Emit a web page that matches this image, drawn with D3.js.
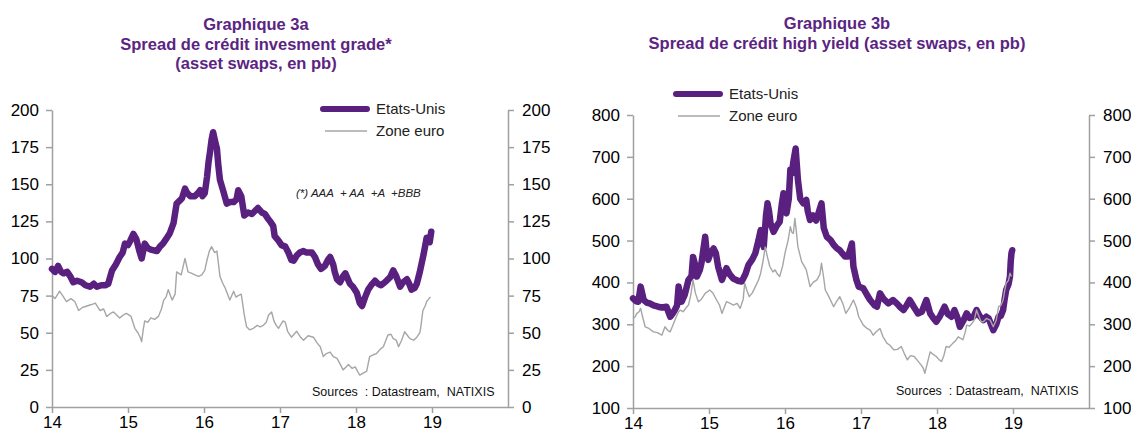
<!DOCTYPE html>
<html>
<head>
<meta charset="utf-8">
<script src="https://cdn.jsdelivr.net/npm/d3@7"></script>
<style>
  body { margin: 0; background: #fff; }
  svg { display: block; font-family: "Liberation Sans", Arial, sans-serif; }
  .title { font-weight: bold; fill: #5b2482; font-size: 16.5px; text-anchor: middle; }
  .tick text { font-size: 17px; fill: #000; font-family: "Liberation Sans", Arial, sans-serif; }
  .axis path, .axis line { stroke: #a0a0a0; stroke-width: 1.5; }
  .legend { font-size: 15px; fill: #222; }
</style>
</head>
<body>
<div id="chart"></div>
<script>
const width = 1131;
const height = 434;

const purple = "#59207f";
const grey = "#a6a6a6";

const yearTicks = [14, 15, 16, 17, 18, 19];
const igTicks = [0, 25, 50, 75, 100, 125, 150, 175, 200];
const hyTicks = [100, 200, 300, 400, 500, 600, 700, 800];

// Graphique 3a - investment grade, Etats-Unis
const igUsDates = [14.00, 14.04, 14.08, 14.12, 14.15, 14.20, 14.24, 14.28, 14.33, 14.39, 14.44, 14.50, 14.55, 14.59, 14.65, 14.70, 14.74, 14.79, 14.84, 14.89, 14.93, 14.96, 15.00, 15.03, 15.07, 15.11, 15.15, 15.18, 15.22, 15.26, 15.30, 15.38, 15.42, 15.46, 15.50, 15.55, 15.60, 15.64, 15.68, 15.71, 15.75, 15.78, 15.82, 15.88, 15.92, 15.95, 15.98, 16.01, 16.04, 16.06, 16.08, 16.10, 16.12, 16.15, 16.17, 16.19, 16.21, 16.25, 16.30, 16.34, 16.39, 16.43, 16.45, 16.49, 16.53, 16.58, 16.63, 16.67, 16.71, 16.76, 16.80, 16.84, 16.87, 16.91, 16.93, 16.98, 17.02, 17.07, 17.11, 17.15, 17.18, 17.22, 17.26, 17.31, 17.35, 17.42, 17.46, 17.50, 17.54, 17.59, 17.63, 17.66, 17.70, 17.72, 17.75, 17.79, 17.83, 17.86, 17.92, 17.96, 18.01, 18.05, 18.08, 18.12, 18.16, 18.20, 18.25, 18.29, 18.33, 18.38, 18.45, 18.49, 18.53, 18.58, 18.62, 18.67, 18.70, 18.73, 18.77, 18.80, 18.84, 18.89, 18.93, 18.95, 18.97, 18.99];
const igUsValues = [93, 91, 95, 91, 90, 91, 88, 84, 85, 84, 82, 81, 83, 81, 82, 82, 83, 92, 96, 101, 104, 110, 109, 112, 116.5, 113, 105, 100, 110, 107, 106, 105, 108, 110, 113, 117, 124, 137, 139, 140.5, 147, 144, 142, 142, 144, 146, 142, 144, 155, 165, 172, 180, 185, 178, 174, 162, 153, 146, 137, 138, 138, 140, 146, 142, 129, 131, 130, 132, 134, 131, 130, 127, 125, 122, 115, 112, 109, 108, 104, 99, 98.5, 102, 104, 105, 104, 104, 101, 96, 93, 95, 99, 101, 96, 91, 86, 84, 88, 90, 83, 81, 77, 70, 68, 74, 79, 82, 85, 83, 82, 84, 87.5, 92, 88, 81, 84, 86, 83, 79, 80, 83, 91, 103, 114, 112, 111, 118];

// Graphique 3a - investment grade, Zone euro
const igEuDates = [14.00, 14.04, 14.10, 14.14, 14.19, 14.25, 14.30, 14.35, 14.40, 14.46, 14.52, 14.57, 14.63, 14.68, 14.72, 14.77, 14.81, 14.85, 14.89, 14.94, 14.98, 15.04, 15.09, 15.13, 15.16, 15.18, 15.20, 15.22, 15.26, 15.30, 15.35, 15.40, 15.44, 15.47, 15.50, 15.53, 15.58, 15.62, 15.64, 15.70, 15.75, 15.79, 15.84, 15.88, 15.93, 15.97, 16.01, 16.04, 16.07, 16.10, 16.14, 16.17, 16.21, 16.24, 16.28, 16.31, 16.34, 16.39, 16.42, 16.45, 16.49, 16.53, 16.56, 16.60, 16.65, 16.70, 16.74, 16.78, 16.82, 16.85, 16.89, 16.92, 16.95, 16.98, 17.04, 17.07, 17.10, 17.15, 17.22, 17.27, 17.31, 17.37, 17.44, 17.49, 17.53, 17.57, 17.61, 17.66, 17.70, 17.75, 17.79, 17.83, 17.87, 17.90, 17.95, 17.99, 18.02, 18.05, 18.10, 18.14, 18.18, 18.22, 18.27, 18.32, 18.36, 18.42, 18.46, 18.49, 18.53, 18.56, 18.60, 18.64, 18.68, 18.71, 18.76, 18.80, 18.84, 18.85, 18.88, 18.91, 18.93, 18.96, 18.98];
const igEuValues = [75, 73, 78, 75, 71, 73, 71, 65, 67, 68, 69, 70, 65, 66, 61, 63, 64, 62, 60, 62, 63, 61, 53, 50, 47, 44, 52, 58, 57, 60, 59, 61, 66, 72, 74, 79, 72, 76, 91, 89, 100, 91, 90, 89, 88, 89, 92, 99, 105, 108, 104, 105, 88, 84, 80, 76, 72, 78, 74, 75, 76, 62, 54, 52, 53, 55, 54, 55, 57, 62, 64, 58, 55, 53, 58, 57, 51, 47, 51, 47, 45, 48, 47, 43, 40.6, 34, 36, 37, 34, 32.7, 29, 25, 27, 28.6, 26, 27, 24, 21.5, 23, 24, 34, 35, 36, 39, 40.6, 48.5, 49, 46, 45, 40.6, 45, 50.7, 48, 46, 45, 47, 50, 53, 65, 68, 71, 73, 74];

// Graphique 3b - high yield, Etats-Unis
const hyUsDates = [14.00, 14.04, 14.07, 14.10, 14.12, 14.14, 14.18, 14.22, 14.27, 14.33, 14.38, 14.44, 14.49, 14.52, 14.55, 14.58, 14.60, 14.62, 14.64, 14.68, 14.73, 14.77, 14.79, 14.82, 14.84, 14.88, 14.90, 14.95, 14.97, 14.99, 15.02, 15.06, 15.09, 15.12, 15.17, 15.20, 15.23, 15.27, 15.32, 15.38, 15.43, 15.48, 15.52, 15.57, 15.61, 15.65, 15.68, 15.72, 15.75, 15.77, 15.79, 15.81, 15.85, 15.89, 15.93, 15.96, 15.98, 16.02, 16.05, 16.07, 16.09, 16.11, 16.14, 16.17, 16.20, 16.24, 16.28, 16.30, 16.33, 16.37, 16.41, 16.44, 16.48, 16.51, 16.55, 16.60, 16.64, 16.68, 16.72, 16.75, 16.79, 16.83, 16.86, 16.88, 16.90, 16.94, 16.97, 17.03, 17.08, 17.12, 17.18, 17.21, 17.25, 17.30, 17.36, 17.42, 17.47, 17.52, 17.56, 17.60, 17.64, 17.70, 17.75, 17.80, 17.86, 17.91, 17.95, 17.99, 18.04, 18.10, 18.14, 18.19, 18.23, 18.27, 18.30, 18.35, 18.39, 18.43, 18.48, 18.52, 18.56, 18.61, 18.65, 18.68, 18.71, 18.74, 18.78, 18.81, 18.84, 18.87, 18.89, 18.91, 18.94, 18.96, 18.97, 18.98, 18.99];
const hyUsValues = [362, 355, 354, 390, 375, 358, 352, 350, 345, 342, 340, 342, 318, 325, 334, 345, 390, 370, 354, 370, 406, 415, 461, 440, 414, 430, 446, 509, 470, 454, 470, 481, 470, 438, 406, 420, 434, 420, 409, 404, 402, 420, 442, 455, 470, 500, 525, 485, 560, 589, 570, 541, 521, 535, 545, 590, 613, 565, 600, 669, 660, 688, 720, 645, 600, 589, 597, 570, 549, 560, 548, 565, 589, 530, 509, 501, 490, 482, 477, 470, 462, 462, 480, 493, 438, 406, 390, 386, 370, 358, 345, 342, 374, 360, 350, 358, 350, 340, 334, 345, 358, 340, 326, 330, 358, 326, 315, 306, 320, 342, 325, 318, 334, 315, 294, 310, 326, 315, 318, 334, 320, 310, 318, 314, 300, 286, 300, 318, 320, 334, 360, 382, 395, 414, 450, 470, 477];

// Graphique 3b - high yield, Zone euro
const hyEuDates = [14.00, 14.03, 14.05, 14.08, 14.10, 14.13, 14.16, 14.21, 14.27, 14.32, 14.38, 14.42, 14.46, 14.49, 14.53, 14.57, 14.60, 14.62, 14.66, 14.70, 14.73, 14.76, 14.79, 14.82, 14.86, 14.90, 14.95, 15.01, 15.05, 15.10, 15.14, 15.17, 15.20, 15.23, 15.28, 15.32, 15.37, 15.41, 15.45, 15.47, 15.50, 15.53, 15.57, 15.61, 15.65, 15.68, 15.71, 15.74, 15.77, 15.80, 15.84, 15.87, 15.90, 15.93, 15.97, 16.00, 16.04, 16.07, 16.09, 16.11, 16.13, 16.15, 16.17, 16.22, 16.25, 16.28, 16.33, 16.37, 16.42, 16.46, 16.48, 16.51, 16.53, 16.58, 16.64, 16.68, 16.72, 16.76, 16.80, 16.85, 16.90, 16.94, 16.97, 17.03, 17.08, 17.12, 17.16, 17.20, 17.25, 17.29, 17.34, 17.38, 17.43, 17.48, 17.53, 17.57, 17.61, 17.65, 17.70, 17.75, 17.79, 17.82, 17.84, 17.87, 17.91, 17.95, 17.99, 18.03, 18.06, 18.09, 18.12, 18.16, 18.21, 18.25, 18.28, 18.34, 18.37, 18.39, 18.43, 18.46, 18.49, 18.52, 18.55, 18.58, 18.61, 18.65, 18.70, 18.74, 18.78, 18.81, 18.84, 18.87, 18.89, 18.91, 18.94, 18.96, 18.98];
const hyEuValues = [314, 318, 326, 330, 338, 315, 294, 290, 282, 280, 274, 294, 285, 282, 300, 318, 330, 334, 330, 340, 346, 370, 406, 375, 354, 360, 374, 382, 375, 358, 345, 326, 340, 354, 350, 346, 350, 338, 360, 398, 380, 366, 375, 390, 405, 422, 450, 485, 460, 438, 425, 430, 420, 414, 440, 470, 500, 533, 520, 517, 553, 520, 485, 449, 440, 430, 390, 400, 406, 420, 446, 410, 382, 365, 342, 355, 366, 350, 326, 340, 358, 340, 318, 298, 290, 286, 274, 282, 290, 270, 255, 250, 239, 240, 247, 230, 215, 225, 223, 212, 203, 195, 183, 205, 234, 228, 223, 215, 211, 225, 247, 245, 255, 262, 270, 263, 280, 298, 296, 302, 310, 334, 320, 306, 306, 314, 310, 294, 310, 342, 345, 358, 380, 398, 405, 422, 414];

const svg = d3.select("#chart")
    .append("svg")
        .attr("width", width)
        .attr("height", height);

function drawPanel(cfg) {
    const X_SCALE = d3.scaleLinear().domain([14, 20]).range([cfg.left, cfg.right]);
    const Y_SCALE = d3.scaleLinear().domain(cfg.yDomain).range([cfg.bottom, cfg.top]);

    // titles
    cfg.title.forEach((t, i) => {
        svg.append("text")
            .attr("class", "title")
            .attr("x", cfg.titleX)
            .attr("y", cfg.titleY + i * 19.5)
            .text(t);
    });

    // left axis
    svg.append("g")
        .attr("class", "axis")
        .attr("transform", "translate(" + cfg.left + ",0)")
        .call(d3.axisLeft(Y_SCALE).tickValues(cfg.yTicks).tickSizeInner(6).tickSizeOuter(0).tickPadding(7));

    // right axis
    svg.append("g")
        .attr("class", "axis")
        .attr("transform", "translate(" + cfg.right + ",0)")
        .call(d3.axisRight(Y_SCALE).tickValues(cfg.yTicks).tickSizeInner(6).tickSizeOuter(0).tickPadding(8));

    // bottom axis, years shown as two digits
    svg.append("g")
        .attr("class", "axis")
        .attr("transform", "translate(0," + cfg.bottom + ")")
        .call(d3.axisBottom(X_SCALE).tickValues(yearTicks).tickFormat(d3.format("d"))
            .tickSizeInner(6).tickSizeOuter(0).tickPadding(3));

    const line = d3.line()
        .x(d => X_SCALE(d[0]))
        .y(d => Y_SCALE(d[1]));

    svg.append("path")
        .datum(d3.zip(cfg.usDates, cfg.usValues))
        .attr("d", line)
        .attr("fill", "none")
        .attr("stroke", purple)
        .attr("stroke-width", 6.5)
        .attr("stroke-linejoin", "round")
        .attr("stroke-linecap", "round");

    svg.append("path")
        .datum(d3.zip(cfg.euDates, cfg.euValues))
        .attr("d", line)
        .attr("fill", "none")
        .attr("stroke", grey)
        .attr("stroke-width", 1.4)
        .attr("stroke-linejoin", "round");

    // legend
    const lg = cfg.legend;
    svg.append("line")
        .attr("x1", lg.x).attr("x2", lg.x + 44)
        .attr("y1", lg.y).attr("y2", lg.y)
        .attr("stroke", purple).attr("stroke-width", 6).attr("stroke-linecap", "round");
    svg.append("text").attr("class", "legend")
        .attr("x", lg.x + 53).attr("y", lg.y + 5).text("Etats-Unis");
    svg.append("line")
        .attr("x1", lg.x + 2).attr("x2", lg.x + 44)
        .attr("y1", lg.y + lg.gap).attr("y2", lg.y + lg.gap)
        .attr("stroke", grey).attr("stroke-width", 1.4);
    svg.append("text").attr("class", "legend")
        .attr("x", lg.x + 53).attr("y", lg.y + lg.gap + 5).text("Zone euro");

    // sources
    svg.append("text")
        .attr("x", cfg.sourceX).attr("y", cfg.sourceY)
        .attr("font-size", "12.5px").attr("fill", "#111")
        .style("white-space", "pre")
        .text("Sources  : Datastream,  NATIXIS");
}

drawPanel({
    left: 52, right: 508, top: 110, bottom: 407,
    yDomain: [0, 200], yTicks: igTicks,
    title: ["Graphique 3a", "Spread de crédit invesment grade*", "(asset swaps, en pb)"],
    titleX: 256, titleY: 30,
    usDates: igUsDates, usValues: igUsValues,
    euDates: igEuDates, euValues: igEuValues,
    legend: { x: 323, y: 109, gap: 22 },
    sourceX: 312, sourceY: 396
});

drawPanel({
    left: 633, right: 1089, top: 115, bottom: 408,
    yDomain: [100, 800], yTicks: hyTicks,
    title: ["Graphique 3b", "Spread de crédit high yield (asset swaps, en pb)"],
    titleX: 837, titleY: 29,
    usDates: hyUsDates, usValues: hyUsValues,
    euDates: hyEuDates, euValues: hyEuValues,
    legend: { x: 676, y: 94, gap: 22 },
    sourceX: 896, sourceY: 395
});

// footnote on the investment grade panel
svg.append("text")
    .attr("x", 296).attr("y", 197)
    .attr("font-size", "11.5px").attr("font-style", "italic").attr("fill", "#222")
    .style("white-space", "pre")
    .text("(*) AAA  + AA  +A  +BBB");
</script>
</body>
</html>
